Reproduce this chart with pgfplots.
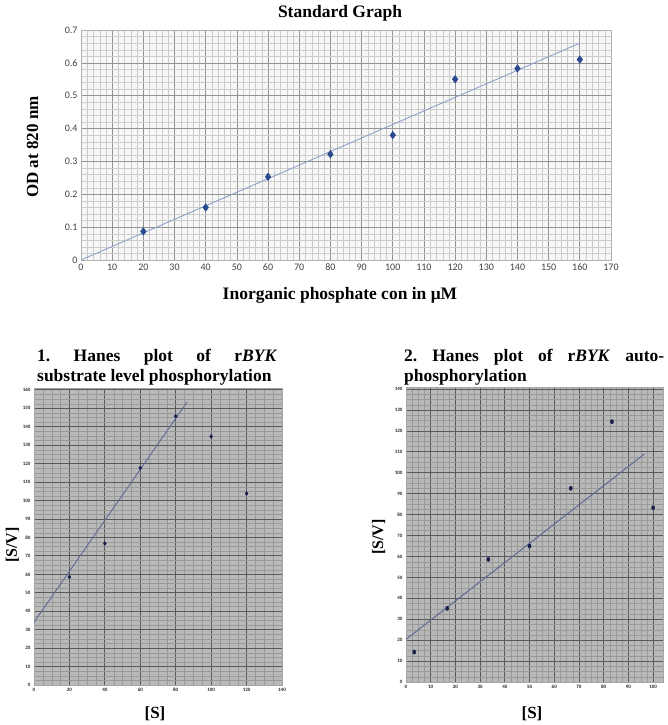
\documentclass[border=0pt]{standalone}
\usepackage{pgfplots}
\pgfplotsset{compat=1.18}
\usepackage{fontspec}
\setmainfont{Liberation Serif}
\newfontfamily\carlito{Carlito}
\definecolor{dotblue}{rgb}{0.16,0.29,0.55}
\definecolor{fitblue}{rgb}{0.55,0.63,0.79}
\definecolor{navy}{rgb}{0.10,0.12,0.30}
\definecolor{slate}{rgb}{0.36,0.42,0.58}
\begin{document}
\begin{tikzpicture}[x=1pt,y=1pt]
\useasboundingbox (0,0) rectangle (668,725);
% ---------- top chart ----------
\begin{axis}[
  at={(81pt,465pt)}, anchor=south west,
  scale only axis, width=530pt, height=230pt,
  xmin=0, xmax=170, ymin=0, ymax=0.7,
  xtick={0,10,...,170}, ytick={0,0.1,...,0.7},
  minor x tick num=4, minor y tick num=4,
  grid=both,
  axis background/.style={fill=gray!6},
  major grid style={gray!85, line width=0.7pt},
  minor grid style={gray!40, line width=0.3pt},
  axis line style={gray!60},
  tick style={draw=none},
  /pgf/number format/assume math mode=true,
  yticklabel style={/pgf/number format/fixed, /pgf/number format/precision=1},
  tick label style={font=\carlito\fontsize{10}{11}\selectfont, text=black!75},
]
\addplot[fitblue, line width=0.9pt] coordinates {(0,0) (160,0.66)};
\addplot[only marks, mark=diamond*, mark size=3.8pt, dotblue] coordinates {
 (20,0.087) (40,0.160) (60,0.253) (80,0.322) (100,0.380) (120,0.550) (140,0.583) (160,0.610)};
\end{axis}
\node[font=\bfseries\fontsize{17.5}{19}\selectfont, anchor=base] at (340,707) {Standard Graph};
\node[font=\bfseries\fontsize{17}{19}\selectfont, rotate=90, anchor=base] at (38,578) {OD at 820 nm};
\node[font=\bfseries\fontsize{17.5}{19}\selectfont, anchor=base] at (340,425) {Inorganic phosphate con in μM};
% ---------- bottom left ----------
\begin{axis}[
  at={(34pt,40pt)}, anchor=south west,
  scale only axis, width=248pt, height=297pt,
  xmin=0, xmax=140, ymin=0, ymax=161,
  xtick={0,20,...,140}, ytick={0,10,...,160},
  minor x tick num=3, minor y tick num=3,
  grid=both,
  axis background/.style={fill=gray!55},
  major grid style={black!65, line width=0.8pt},
  minor grid style={gray!80, line width=0.35pt},
  axis line style={gray!70},
  tick style={draw=none},
  /pgf/number format/assume math mode=true,
  tick label style={font=\carlito\bfseries\fontsize{5}{6}\selectfont, text=black!85},
]
\addplot[slate, line width=0.9pt] coordinates {(0,34) (86.5,153.5)};
\addplot[only marks, mark=*, mark size=1.5pt, navy, every mark/.append style={yscale=1.3}] coordinates {
 (20,58.5) (40,76.7) (60,117.7) (80,145.7) (100,134.7) (120,103.8)};
\end{axis}
\node[anchor=base west, font=\bfseries\fontsize{17.5}{19}\selectfont, inner sep=0] at (37,363)
  {\hbox to 240pt{1.\hfil Hanes\hfil plot\hfil of\hfil r\textit{BYK}}};
\node[anchor=base west, font=\bfseries\fontsize{17.5}{19}\selectfont, inner sep=0] at (37,343)
  {substrate level phosphorylation};
\node[font=\bfseries\fontsize{16}{18}\selectfont, rotate=90, anchor=base] at (17,180) {[S/V]};
\node[font=\bfseries\fontsize{17}{19}\selectfont, anchor=base] at (155,6) {[S]};
% ---------- bottom right ----------
\begin{axis}[
  at={(406pt,43pt)}, anchor=south west,
  scale only axis, width=257pt, height=295pt,
  xmin=0, xmax=104, ymin=0, ymax=141,
  xtick={0,10,...,100}, ytick={0,10,...,140},
  minor x tick num=3, minor y tick num=3,
  grid=both,
  axis background/.style={fill=gray!55},
  major grid style={black!65, line width=0.8pt},
  minor grid style={gray!80, line width=0.35pt},
  axis line style={gray!70},
  tick style={draw=none},
  /pgf/number format/assume math mode=true,
  tick label style={font=\carlito\bfseries\fontsize{5}{6}\selectfont, text=black!85},
]
\addplot[slate, line width=1pt] coordinates {(0,20.4) (96.5,109)};
\addplot[only marks, mark=*, mark size=1.6pt, navy, every mark/.append style={yscale=1.35}] coordinates {
 (3.33,14.3) (16.67,35.2) (33.33,58.6) (50,65.0) (66.67,92.6) (83.33,124.4) (100,83.3)};
\end{axis}
\node[anchor=base west, font=\bfseries\fontsize{17.5}{19}\selectfont, inner sep=0] at (404,363)
  {\hbox to 260pt{2.\hfil Hanes\hfil plot\hfil of\hfil r\textit{BYK}\hfil auto-}};
\node[anchor=base west, font=\bfseries\fontsize{17.5}{19}\selectfont, inner sep=0] at (404,343)
  {phosphorylation};
\node[font=\bfseries\fontsize{16}{18}\selectfont, rotate=90, anchor=base] at (383,188) {[S/V]};
\node[font=\bfseries\fontsize{17}{19}\selectfont, anchor=base] at (532,6) {[S]};
\end{tikzpicture}
\end{document}
